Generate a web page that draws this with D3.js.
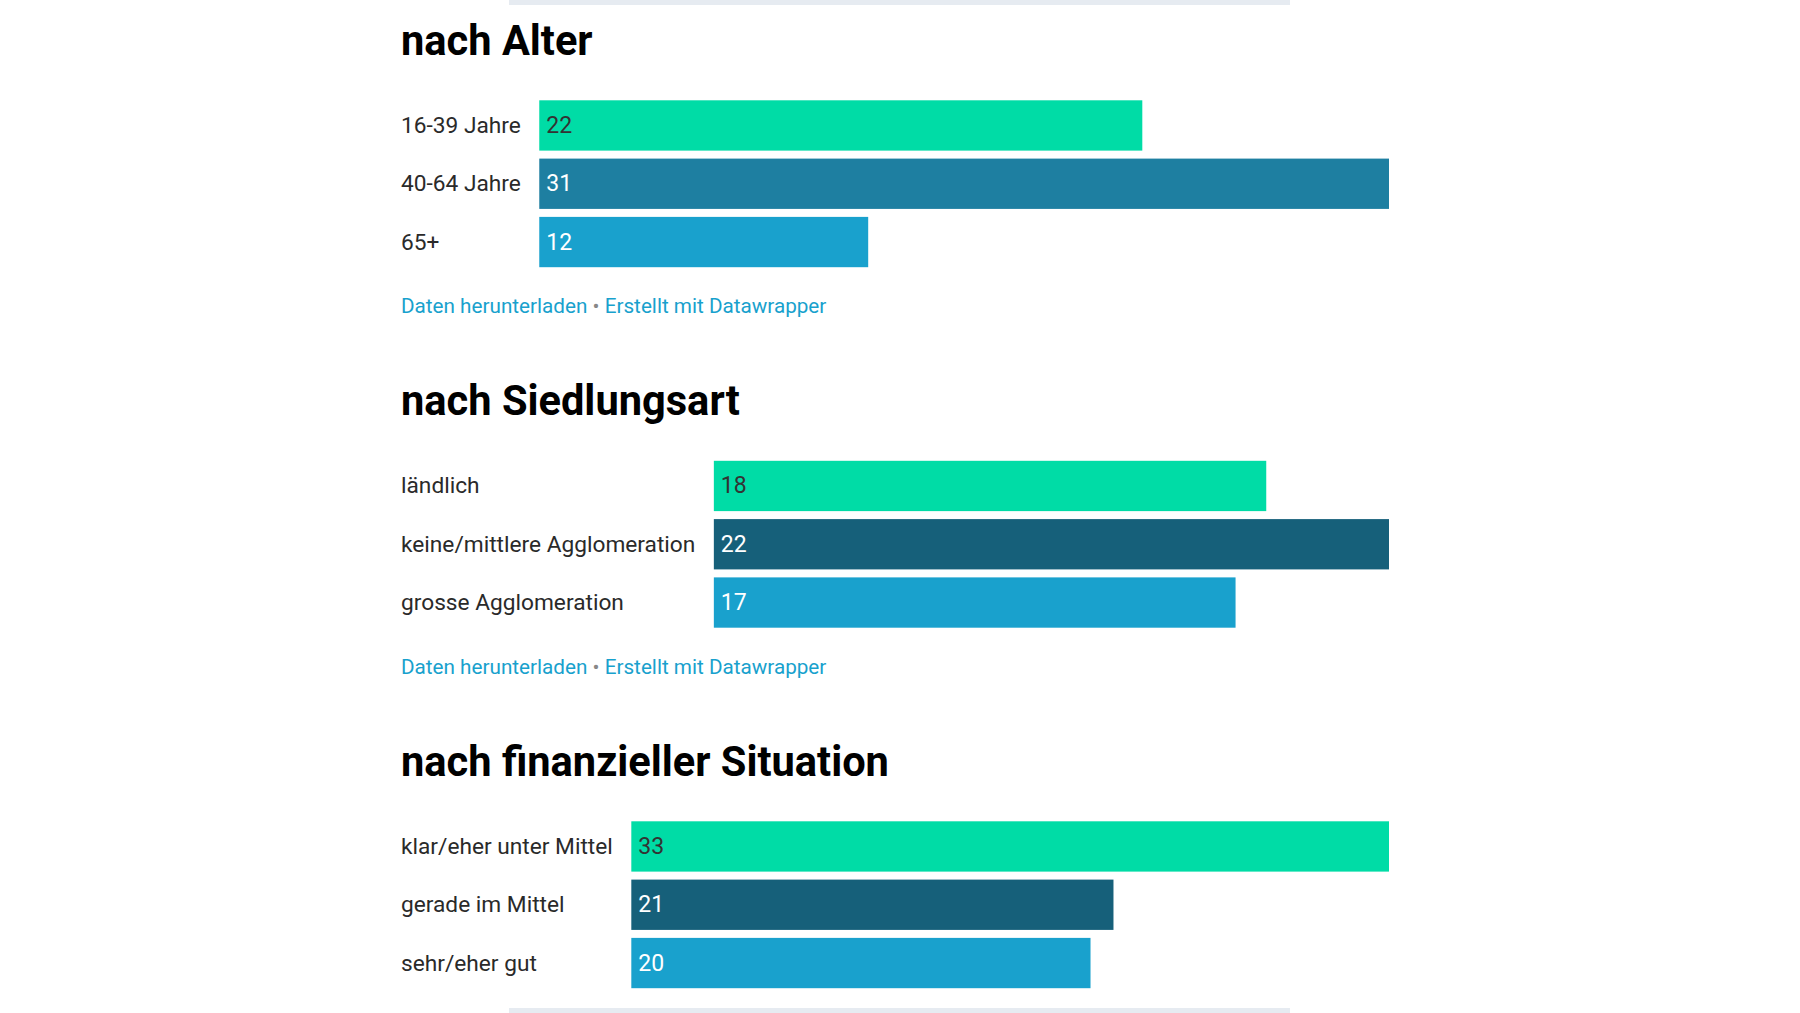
<!DOCTYPE html>
<html>
<head>
<meta charset="utf-8">
<script src="https://cdn.jsdelivr.net/npm/d3@7"></script>
<style>
  html, body { margin: 0; padding: 0; background: #fff; }
  svg { display: block; font-family: Roboto, "Noto Sans", sans-serif; }
</style>
</head>
<body>
<svg id="chart" width="1800" height="1013"></svg>
<script>
// data
const ageTitle = "nach Alter";
const ageLabels = ["16-39 Jahre", "40-64 Jahre", "65+"];
const ageValues = [22, 31, 12];

const settlementTitle = "nach Siedlungsart";
const settlementLabels = ["ländlich", "keine/mittlere Agglomeration", "grosse Agglomeration"];
const settlementValues = [18, 22, 17];

const financeTitle = "nach finanzieller Situation";
const financeLabels = ["klar/eher unter Mittel", "gerade im Mittel", "sehr/eher gut"];
const financeValues = [33, 21, 20];

const sections = [
    { title: ageTitle, labels: ageLabels, values: ageValues, colors: ["#00dca6", "#1e7fa1", "#19a1cd"], footer: true },
    { title: settlementTitle, labels: settlementLabels, values: settlementValues, colors: ["#00dca6", "#16607a", "#19a1cd"], footer: true },
    { title: financeTitle, labels: financeLabels, values: financeValues, colors: ["#00dca6", "#16607a", "#19a1cd"], footer: false }
];

const svg = d3.select("#chart");

const left = 401;
const right = 1389;
const sectionStep = 360.5;
const top0 = 1.3;
const titleBaseline = 53.5;
const barsTop = 99;
const rowStep = 58.3;

// grey strips at top and bottom of the embed
svg.append("rect").attr("x", 509).attr("y", 0).attr("width", 781).attr("height", 5).attr("fill", "#e6ebf1");
svg.append("rect").attr("x", 509).attr("y", 1008).attr("width", 781).attr("height", 5).attr("fill", "#e6ebf1");

sections.forEach((s, i) => {
    const g = svg.append("g").attr("transform", `translate(${left},${top0 + i * sectionStep})`);

    g.append("text")
        .attr("x", 0)
        .attr("y", titleBaseline)
        .attr("font-size", 41.6)
        .attr("font-weight", 700)
        .attr("fill", "#000")
        .text(s.title);

    // row labels first, so the bar column can start after the widest one
    const labels = g.selectAll(".lbl")
        .data(s.labels)
        .enter().append("text")
        .attr("class", "lbl")
        .attr("x", 0)
        .attr("font-size", 22.7)
        .attr("fill", "#2a2a2a")
        .attr("dominant-baseline", "central")
        .text(d => d);

    let maxW = 0;
    labels.each(function() { maxW = Math.max(maxW, this.getComputedTextLength()); });

    const x = d3.scaleLinear()
        .domain([0, d3.max(s.values)])
        .range([maxW + 18.5, right - left]);

    const y = d3.scaleBand()
        .domain(s.labels)
        .range([barsTop, barsTop + rowStep * 3 - 8])
        .paddingInner(0.137)
        .paddingOuter(0);

    labels.attr("y", d => y(d) + y.bandwidth() / 2);

    const rows = s.labels.map((l, j) => ({ label: l, value: s.values[j], color: s.colors[j] }));

    g.selectAll(".bar")
        .data(rows)
        .enter().append("rect")
        .attr("class", "bar")
        .attr("x", x(0))
        .attr("y", d => y(d.label))
        .attr("width", d => x(d.value) - x(0))
        .attr("height", y.bandwidth())
        .attr("fill", d => d.color);

    g.selectAll(".val")
        .data(rows)
        .enter().append("text")
        .attr("class", "val")
        .attr("x", x(0) + 7)
        .attr("y", d => y(d.label) + y.bandwidth() / 2)
        .attr("dominant-baseline", "central")
        .attr("font-size", 23)
        .attr("fill", d => d.color === "#00dca6" ? "#333" : "#fff")
        .text(d => d.value);

    if (s.footer) {
        const f = g.append("text")
            .attr("x", 0)
            .attr("y", 312)
            .attr("font-size", 20.7)
            .attr("fill", "#18a1cd");
        f.append("tspan").text("Daten herunterladen");
        f.append("tspan").attr("fill", "#888").text(" • ");
        f.append("tspan").text("Erstellt mit Datawrapper");
    }
});
</script>
</body>
</html>
